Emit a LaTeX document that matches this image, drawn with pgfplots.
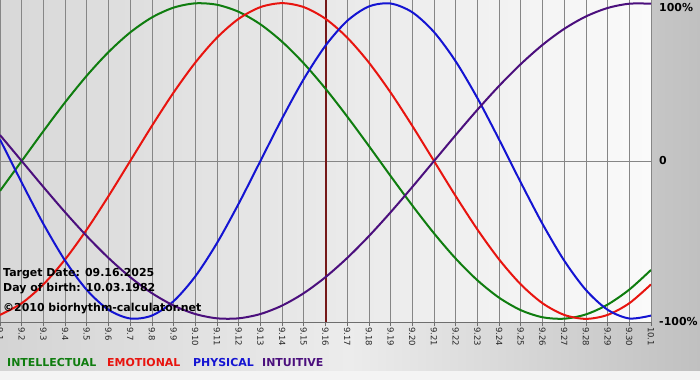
\documentclass[border=0pt]{standalone}
\usepackage{pgfplots}
\pgfplotsset{compat=1.18}
\usepackage{fontspec}
\setmainfont{DejaVu Sans}
\definecolor{gridgray}{HTML}{868686}
\definecolor{axisgray}{HTML}{6E6E6E}
\definecolor{cgreen}{HTML}{0F7D0F}
\definecolor{cred}{HTML}{E8140F}
\definecolor{cblue}{HTML}{1414D2}
\definecolor{cpurple}{HTML}{4B0F7D}
\definecolor{ctarget}{HTML}{751818}
\definecolor{bgwhite}{HTML}{F4F4F4}
\definecolor{outerL}{HTML}{D4D4D4}
\definecolor{outerM}{HTML}{ECECEC}
\definecolor{outerR}{HTML}{C0C0C0}
\definecolor{plotL}{HTML}{D8D8D8}
\definecolor{plotR}{HTML}{FAFAFA}
\begin{document}
\begin{tikzpicture}[x=1bp,y=1bp]
\useasboundingbox (0,0) rectangle (700,-380);
\fill[bgwhite] (0,0) rectangle (700,-380);
\shade[left color=outerL, right color=outerR, middle color=outerM] (0,0) rectangle (700,-370);
\begin{axis}[
  at={(0,0)}, anchor=north west, scale only axis,
  width=651bp, height=322bp,
  xmin=0, xmax=30, ymin=-1.02, ymax=1.02,
  axis x line*=bottom, axis y line*=right,
  axis line style={-},
  x axis line style={draw=axisgray, line width=0.8bp},
  y axis line style={draw=none},
  xtick={0,...,30},
  xticklabels={9.1,9.2,9.3,9.4,9.5,9.6,9.7,9.8,9.9,9.10,9.11,9.12,9.13,9.14,9.15,9.16,9.17,9.18,9.19,9.20,9.21,9.22,9.23,9.24,9.25,9.26,9.27,9.28,9.29,9.30,10.1},
  xmajorgrids,
  grid style={draw=gridgray, line width=0.8bp},
  tick align=outside, major tick length=4bp,
  xtick style={draw=axisgray, line width=0.8bp},
  ytick={-1.015,0,0.975},
  yticklabels={-100\%,0,100\%},
  ytick style={draw=none},
  xticklabel style={rotate=-90, anchor=west, font=\fontsize{8.5}{9}\selectfont, text=black!85, inner sep=1bp},
  yticklabel style={anchor=west, font=\fontsize{11}{12}\selectfont\bfseries, inner sep=0pt, xshift=4bp},
  axis background/.style={left color=plotL, right color=plotR},
  /pgf/number format/assume math mode=true,
]
% zero line
\addplot[gridgray, line width=0.8bp, no markers] coordinates {(0,0) (30,0)};
% target date line
\addplot[ctarget, line width=2bp, no markers] coordinates {(15,-1.02) (15,1.02)};
% Intellectual
\addplot[cgreen, line width=2bp, smooth, no markers] coordinates {
(0,-0.1893) (1,0) (2,0.1893) (3,0.3717) (4,0.5406) (5,0.6901) (6,0.8146) (7,0.9096) (8,0.9718) (9,0.9989)
(10,0.9898) (11,0.9450) (12,0.8660) (13,0.7557) (14,0.6182) (15,0.4582) (16,0.2817) (17,0.0951) (18,-0.0951) (19,-0.2817)
(20,-0.4582) (21,-0.6182) (22,-0.7557) (23,-0.8660) (24,-0.9450) (25,-0.9898) (26,-0.9989) (27,-0.9718) (28,-0.9096) (29,-0.8146) (30,-0.6901)};
% Emotional
\addplot[cred, line width=2bp, smooth, no markers] coordinates {
(0,-0.9749) (1,-0.9010) (2,-0.7818) (3,-0.6235) (4,-0.4339) (5,-0.2225) (6,0) (7,0.2225) (8,0.4339) (9,0.6235)
(10,0.7818) (11,0.9010) (12,0.9749) (13,1) (14,0.9749) (15,0.9010) (16,0.7818) (17,0.6235) (18,0.4339) (19,0.2225)
(20,0) (21,-0.2225) (22,-0.4339) (23,-0.6235) (24,-0.7818) (25,-0.9010) (26,-0.9749) (27,-1) (28,-0.9749) (29,-0.9010) (30,-0.7818)};
% Physical
\addplot[cblue, line width=2bp, smooth, no markers] coordinates {
(0,0.1362) (1,-0.1362) (2,-0.3984) (3,-0.6311) (4,-0.8170) (5,-0.9423) (6,-0.9977) (7,-0.9791) (8,-0.8879) (9,-0.7308)
(10,-0.5196) (11,-0.2698) (12,0) (13,0.2698) (14,0.5196) (15,0.7308) (16,0.8879) (17,0.9791) (18,0.9977) (19,0.9423)
(20,0.8170) (21,0.6311) (22,0.3984) (23,0.1362) (24,-0.1362) (25,-0.3984) (26,-0.6311) (27,-0.8170) (28,-0.9423) (29,-0.9977) (30,-0.9791)};
% Intuitive
\addplot[cpurple, line width=2bp, smooth, no markers] coordinates {
(0,0.1646) (1,0) (2,-0.1646) (3,-0.3247) (4,-0.4759) (5,-0.6142) (6,-0.7357) (7,-0.8372) (8,-0.9158) (9,-0.9694)
(10,-0.9966) (11,-0.9966) (12,-0.9694) (13,-0.9158) (14,-0.8372) (15,-0.7357) (16,-0.6142) (17,-0.4759) (18,-0.3247) (19,-0.1646)
(20,0) (21,0.1646) (22,0.3247) (23,0.4759) (24,0.6142) (25,0.7357) (26,0.8372) (27,0.9158) (28,0.9694) (29,0.9966) (30,0.9966)};
\end{axis}
\begin{scope}[every node/.style={anchor=base west, inner sep=0pt, font=\fontsize{11}{12}\selectfont\bfseries}]
\node at (3,-276) {Target Date: 09.16.2025};
\node at (3,-291) {Day of birth: 10.03.1982};
\node at (3,-311) {©2010 biorhythm-calculator.net};
\node[text=cgreen] at (7,-366) {INTELLECTUAL};
\node[text=cred] at (107,-366) {EMOTIONAL};
\node[text=cblue] at (193,-366) {PHYSICAL};
\node[text=cpurple] at (262,-366) {INTUITIVE};
\end{scope}
\end{tikzpicture}
\end{document}
